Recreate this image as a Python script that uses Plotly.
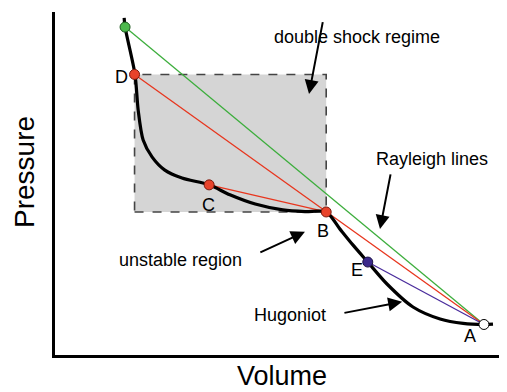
import plotly.graph_objects as go

# Hugoniot curve (Volume, Pressure) in arbitrary units
hug_volume = [15.3, 15.5, 17.7, 18.4, 19.5, 21.5, 24.3, 28.1, 34.1, 38.7, 44.3, 50.4, 55.3,
              60.0, 63.05, 65.9, 69.2, 73.45, 79.2, 85.2, 90.3, 94.9, 96.9]
hug_pressure = [98.3, 95.6, 81.8, 71.4, 62.7, 57.7, 53.9, 51.6, 49.6, 46.7, 44.0, 42.3, 41.8,
                41.7, 36.7, 32.1, 27.1, 20.7, 14.0, 10.5, 9.2, 8.9, 9.0]

# Named states on the Hugoniot
state_names = ["G", "D", "C", "B", "E", "A"]
state_volume = [15.5, 17.6, 34.1, 60.0, 69.2, 94.9]
state_pressure = [95.6, 81.8, 49.6, 41.7, 27.1, 8.9]
S = {n: (v, p) for n, v, p in zip(state_names, state_volume, state_pressure)}

FONT = "Liberation Sans, Arial, Helvetica, sans-serif"
GREEN = "#3dae3d"
RED = "#e8361e"
PURPLE = "#4a2c9c"

fig = go.Figure()

# double shock regime box (D to B)
fig.add_shape(type="rect", xref="x", yref="y",
              x0=S["D"][0], x1=S["B"][0], y0=S["B"][1], y1=S["D"][1],
              fillcolor="#d5d5d5", line=dict(color="#444444", width=1.6, dash="dash"),
              layer="below")

def seg(a, b, color):
    fig.add_trace(go.Scatter(x=[S[a][0], S[b][0]], y=[S[a][1], S[b][1]], mode="lines",
                             line=dict(color=color, width=1.3), hoverinfo="skip",
                             showlegend=False))

seg("G", "A", GREEN)
seg("D", "A", RED)
seg("C", "B", RED)
seg("E", "A", PURPLE)

fig.add_trace(go.Scatter(x=hug_volume, y=hug_pressure, mode="lines",
                         line=dict(color="black", width=3.2, shape="spline", smoothing=0.8),
                         hoverinfo="skip", showlegend=False))

marker_fill = {"G": "#4cb84c", "D": "#e8432b", "C": "#e8432b", "B": "#e8432b",
               "E": "#3b2a8c", "A": "white"}
marker_line = {"G": "#1f5a1f", "D": "#7a1a0e", "C": "#7a1a0e", "B": "#7a1a0e",
               "E": "#1c1245", "A": "black"}
fig.add_trace(go.Scatter(x=state_volume, y=state_pressure, mode="markers",
                         marker=dict(size=10, color=[marker_fill[n] for n in state_names],
                                     line=dict(color=[marker_line[n] for n in state_names], width=1)),
                         hoverinfo="skip", showlegend=False))

# point labels
label_shift = {"D": (-13, -3), "C": (-1, -20), "B": (-3, -19), "E": (-11, -8), "A": (-14, -12)}
for n, (dx, dy) in label_shift.items():
    fig.add_annotation(x=S[n][0], y=S[n][1], text=n, showarrow=False, xshift=dx, yshift=dy,
                       font=dict(family=FONT, size=18, color="black"))

# text labels
texts = [("double shock regime", 66.9, 92.7), ("Rayleigh lines", 83.4, 57.1),
         ("unstable region", 27.7, 27.7), ("Hugoniot", 52.0, 11.7)]
for t, x, y in texts:
    fig.add_annotation(x=x, y=y, text=t, showarrow=False, xanchor="center", yanchor="middle",
                       font=dict(family=FONT, size=18, color="black"))

# arrows (tail -> head)
arrows = [((59.3, 97.5), (56.2, 76.1)), ((74.3, 53.1), (71.9, 36.7)),
          ((45.1, 29.7), (55.3, 35.9)), ((63.7, 12.2), (76.8, 15.5))]
for (tx, ty), (hx, hy) in arrows:
    fig.add_annotation(x=hx, y=hy, ax=tx, ay=ty, xref="x", yref="y", axref="x", ayref="y",
                       text="", showarrow=True, arrowhead=2, arrowsize=1.4, arrowwidth=2,
                       arrowcolor="black")

# axis titles
fig.add_annotation(xref="paper", yref="paper", x=-0.066, y=0.534, text="Pressure",
                   xanchor="center", yanchor="middle",
                   textangle=-90, showarrow=False, font=dict(family=FONT, size=28, color="black"))
fig.add_annotation(xref="paper", yref="paper", x=0.502, y=-0.062, text="Volume",
                   xanchor="center", yanchor="middle",
                   showarrow=False, font=dict(family=FONT, size=27, color="black"))

fig.update_xaxes(range=[0, 100], showline=True, linecolor="black", linewidth=3,
                 showticklabels=False, ticks="", showgrid=False, zeroline=False)
fig.update_yaxes(range=[0, 100], showline=True, linecolor="black", linewidth=3,
                 showticklabels=False, ticks="", showgrid=False, zeroline=False)
# page body has an 8px margin, so the figure is sized/offset to compensate
fig.update_layout(width=499, height=384, margin=dict(l=47, r=0, t=4, b=37),
                  plot_bgcolor="white", paper_bgcolor="white", showlegend=False)

fig.write_html("out.html")
